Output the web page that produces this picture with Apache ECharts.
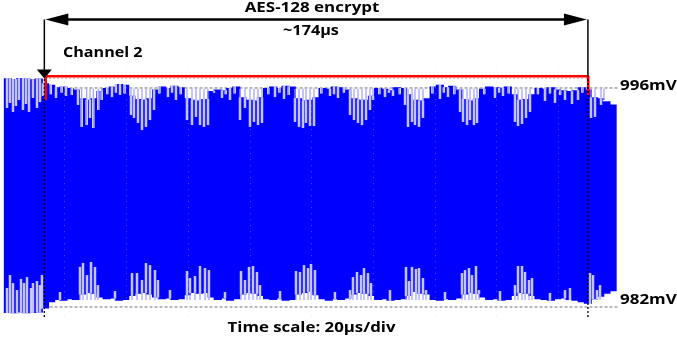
<!DOCTYPE html>
<html>
<head>
<meta charset="utf-8">
<script src="https://cdn.jsdelivr.net/npm/echarts@6/dist/echarts.min.js"></script>
<style>
  html, body { margin: 0; padding: 0; background: #fff; }
  #chart { width: 677px; height: 343px; }
</style>
</head>
<body>
<div id="chart"></div>
<script>
// scope capture, channel 2, 20 µs/div, values in µs / mV
const binStart = 0.6;
const binWidth = 2;

// solid part of the trace, one value per 2 µs bin
const topEdge = [
  996.62, 996.58, 996.64, 996.60, 996.55, 996.60,
  996.30, 996.20, 996.05, 996.10, 996.00, 995.90,
  995.35, 995.25, 995.35, 995.80, 996.00, 996.10,
  996.25, 996.20, 995.50, 995.30, 995.25, 995.35,
  995.90, 996.10, 996.00, 996.15, 996.05, 995.35,
  995.25, 995.20, 995.30, 995.80, 995.90, 995.85,
  996.00, 996.10, 995.40, 995.25, 995.20, 995.40,
  996.00, 996.10, 996.00, 996.15, 996.10, 995.35,
  995.20, 995.25, 995.40, 996.00, 995.95, 996.10,
  996.05, 995.90, 995.35, 995.25, 995.25, 995.50,
  996.00, 995.95, 995.85, 996.05, 996.00, 995.60,
  995.25, 995.20, 995.35, 996.10, 996.20, 996.05,
  996.15, 995.90, 995.30, 995.20, 995.35, 995.95,
  996.10, 996.05, 996.00, 996.10, 995.60, 995.25,
  995.30, 995.60, 996.00, 995.95, 996.05, 995.90,
  995.85, 995.80, 995.85, 996.05, 995.90, 995.40,
  995.35, 995.15, 994.95
];
const bottomEdge = [
  981.62, 981.60, 981.65, 981.60, 981.62, 981.65,
  981.90, 982.30, 982.45, 982.40, 982.50, 982.45,
  982.80, 982.90, 982.85, 982.60, 982.50, 982.55,
  982.40, 982.45, 982.70, 982.85, 982.90, 982.80,
  982.60, 982.50, 982.55, 982.45, 982.50, 982.75,
  982.90, 982.85, 982.90, 982.60, 982.45, 982.55,
  982.40, 982.50, 982.80, 982.90, 982.85, 982.70,
  982.50, 982.45, 982.55, 982.40, 982.45, 982.80,
  982.90, 982.95, 982.75, 982.50, 982.40, 982.50,
  982.45, 982.55, 982.80, 982.90, 982.85, 982.70,
  982.45, 982.50, 982.40, 982.45, 982.50, 982.70,
  982.95, 982.85, 982.80, 982.45, 982.40, 982.50,
  982.45, 982.55, 982.80, 982.90, 982.85, 982.60,
  982.45, 982.50, 982.40, 982.45, 982.70, 982.90,
  982.85, 982.70, 982.50, 982.45, 982.40, 982.50,
  982.55, 982.45, 982.40, 982.30, 982.20, 982.50,
  982.65, 982.85, 983.00
];

// low excursions from the top of the trace [µs, mV]
const topNotches = [
  [1.30, 994.72], [2.27, 995.04], [3.24, 994.47], [4.21, 994.85], [5.19, 995.23], [6.48, 994.59],
  [7.46, 994.98], [8.43, 994.47], [9.72, 995.36], [11.02, 994.72], [11.99, 995.10], [12.97, 995.49],
  [15.50, 995.60], [17.18, 995.36], [19.00, 995.70], [20.42, 995.49], [22.30, 995.55],
  [24.31, 994.91], [25.51, 993.51], [27.13, 993.63], [28.20, 994.08], [29.27, 993.44], [30.89, 994.59], [31.99, 995.23],
  [33.80, 995.60], [35.33, 995.42], [36.60, 995.70], [37.93, 995.55], [39.40, 995.65],
  [41.49, 994.27], [42.46, 994.08], [43.76, 993.76], [45.06, 993.31], [46.35, 993.51], [47.65, 993.95], [48.95, 994.59],
  [50.70, 995.65], [53.48, 995.42], [54.80, 995.70], [56.07, 995.23], [57.60, 995.60],
  [59.64, 993.95], [61.26, 993.63], [62.56, 994.15], [63.86, 993.63], [65.15, 993.51], [66.45, 993.63],
  [68.40, 995.70], [70.99, 995.36], [72.20, 995.60], [73.58, 995.23], [75.10, 995.65],
  [76.82, 993.95], [78.44, 994.72], [80.06, 993.51], [81.36, 993.83], [82.66, 993.63], [83.95, 993.76],
  [86.00, 995.60], [88.17, 995.42], [89.60, 995.70], [91.09, 995.30], [92.60, 995.55],
  [94.65, 993.83], [95.95, 993.51], [97.24, 993.44], [98.22, 993.76], [99.51, 993.57], [100.81, 993.57],
  [103.20, 995.65], [106.00, 995.49], [107.30, 995.60], [108.59, 995.36], [110.50, 995.70],
  [112.48, 994.27], [113.78, 993.95], [115.07, 993.76], [116.37, 993.63], [117.67, 993.95], [118.96, 994.59], [119.94, 995.23],
  [122.00, 995.60], [123.82, 995.42], [125.10, 995.70], [126.42, 995.49], [128.60, 995.60],
  [130.31, 994.91], [131.28, 993.51], [132.58, 993.83], [133.55, 993.63], [134.85, 993.51], [136.14, 994.08],
  [139.20, 995.65], [141.65, 995.30], [142.90, 995.70], [144.25, 995.42], [146.30, 995.60],
  [148.14, 994.47], [149.11, 993.83], [150.41, 993.63], [151.38, 993.95], [152.67, 993.63], [153.65, 993.76],
  [156.00, 995.60], [159.48, 995.36], [160.80, 995.70], [162.07, 995.49], [163.90, 995.65],
  [165.96, 993.83], [166.94, 993.57], [168.23, 993.70], [169.53, 994.08], [170.83, 994.47],
  [173.40, 995.60], [175.69, 995.17], [177.30, 995.65], [178.93, 995.04], [180.60, 995.55],
  [182.17, 995.23], [184.44, 994.98], [186.39, 995.23], [187.80, 995.70],
  [190.60, 994.08], [191.90, 994.15], [193.84, 994.91], [194.81, 995.23]
];

// high excursions from the bottom of the trace [µs, mV]
const bottomSpikes = [
  [1.30, 983.21], [2.27, 984.04], [3.24, 983.53], [4.54, 983.08], [5.83, 983.79], [6.81, 983.53],
  [7.78, 983.91], [9.08, 983.21], [9.72, 983.53], [11.02, 983.66], [11.99, 983.40], [12.64, 984.04],
  [18.48, 982.96],
  [24.96, 984.56], [25.93, 984.81], [27.23, 984.04], [28.53, 984.87], [29.82, 984.56], [30.79, 983.40],
  [36.30, 983.02],
  [41.82, 984.17], [43.44, 984.17], [45.06, 983.72], [46.35, 984.81], [47.65, 984.68], [49.27, 984.36], [50.24, 983.72],
  [54.13, 983.08],
  [59.64, 984.30], [60.62, 983.85], [62.24, 983.98], [63.86, 984.62], [65.48, 984.49], [66.77, 984.36],
  [71.96, 982.96],
  [77.15, 984.30], [78.44, 983.72], [79.74, 984.56], [81.04, 984.62], [82.33, 984.24], [83.31, 983.40],
  [89.79, 983.02],
  [94.98, 984.30], [96.27, 984.24], [97.57, 984.68], [98.87, 984.49], [99.84, 984.75], [101.13, 984.36],
  [107.60, 982.96],
  [112.48, 983.08], [113.45, 983.91], [114.75, 984.24], [116.05, 984.04], [117.02, 984.49], [118.31, 984.17], [119.29, 983.53],
  [125.44, 983.08],
  [130.63, 984.56], [131.60, 983.66], [132.58, 984.56], [133.87, 984.43], [134.85, 984.49], [136.14, 983.85], [137.12, 983.08],
  [143.27, 982.96],
  [148.78, 984.17], [149.76, 984.36], [151.05, 984.49], [152.03, 984.04], [153.32, 984.62], [154.29, 983.08],
  [161.10, 983.02],
  [165.96, 983.40], [166.94, 984.62], [168.23, 984.62], [169.21, 984.24], [170.50, 983.72], [171.48, 983.85],
  [177.30, 982.90],
  [182.17, 983.08], [183.79, 983.21],
  [190.28, 984.17], [191.25, 984.04], [192.54, 983.08], [193.52, 983.40]
];
// level the fast excursions reach back to
const topReach = 995.95;
const bottomReach = 982.45;

// channel 1 trigger window
const triggerTrace = [[13.84, 995.23], [13.84, 996.75], [189.70, 996.75], [189.70, 995.55]];
const triggerRipple = [[13.84, 996.62], [189.70, 996.62]];

// cursors and reference levels
const markerTimes = [13.4, 189.6];
const refLevels = [996, 982];
const refLabels = ['996mV', '982mV'];
const spanLabel = '~174µs';
const titleLabel = 'AES-128 encrypt';
const channelLabel = 'Channel 2';
const scaleLabel = 'Time scale: 20µs/div';

const BLUE = '#0000ff';
const LIGHT = '#9b9bff';
const FONT = '"Open Sans", "Liberation Sans", sans-serif';

const chart = echarts.init(document.getElementById('chart'), null, { renderer: 'canvas' });

const binOf = (t) =>
  Math.min(topEdge.length - 1, Math.max(0, Math.floor((t - binStart) / binWidth)));

// [t, tip, solid edge, where the thin trace line starts]
const excursion = (params, api) => {
  const t = api.value(0);
  const tip = api.coord([t, api.value(1)]);
  const edge = api.coord([t, api.value(2)]);
  const from = api.coord([t, api.value(3)]);
  const gap = { y: Math.min(edge[1], tip[1]), h: Math.abs(tip[1] - edge[1]) };
  const line = { y: Math.min(from[1], tip[1]), h: Math.abs(tip[1] - from[1]) };
  return {
    type: 'group',
    children: [
      { type: 'rect', shape: { x: tip[0] - 1.2, y: gap.y, width: 2.4, height: gap.h }, style: { fill: '#fff' } },
      { type: 'rect', shape: { x: tip[0] - 0.6, y: line.y, width: 1.2, height: line.h }, style: { fill: LIGHT } },
    ],
  };
};

chart.setOption({
  animation: false,
  grid: { left: 3, width: 617, top: 69.2, height: 250.3 },
  xAxis: {
    type: 'value',
    min: 0,
    max: 200,
    interval: 20,
    z: 5,
    axisLine: { show: false },
    axisTick: { show: false },
    axisLabel: { show: false },
    splitLine: {
      show: true,
      showMinLine: false,
      showMaxLine: false,
      lineStyle: { color: 'rgba(190,190,255,0.4)', width: 1, type: [1, 5] },
    },
  },
  yAxis: {
    type: 'value',
    min: 981.2,
    max: 997.2,
    axisLine: { show: false },
    axisTick: { show: false },
    axisLabel: { show: false },
    splitLine: { show: false },
  },
  series: [
    ...refLevels.map((lvl) => ({
      type: 'line',
      z: 1,
      symbol: 'none',
      silent: true,
      data: [[0.5, lvl], [199.4, lvl]],
      lineStyle: { color: '#707070', width: 1, type: [3, 2] },
    })),
    {
      type: 'custom',
      z: 2,
      silent: true,
      data: topEdge.map((v, i) => [binStart + i * binWidth, bottomEdge[i], v]),
      renderItem: (params, api) => {
        const t0 = api.value(0);
        const a = api.coord([t0, api.value(2)]);
        const b = api.coord([t0 + binWidth, api.value(1)]);
        return {
          type: 'rect',
          shape: { x: a[0] - 1, y: a[1], width: b[0] - a[0] + 2, height: b[1] - a[1] },
          style: { fill: BLUE },
        };
      },
    },
    {
      type: 'custom',
      z: 3,
      silent: true,
      data: topNotches.map(([t, v]) => {
        const edge = topEdge[binOf(t)];
        return [t, v, edge, Math.max(edge, topReach)];
      }),
      renderItem: excursion,
    },
    {
      type: 'custom',
      z: 3,
      silent: true,
      data: bottomSpikes.map(([t, v]) => {
        const edge = bottomEdge[binOf(t)];
        return [t, v, edge, Math.min(edge, bottomReach)];
      }),
      renderItem: excursion,
    },
    {
      type: 'line',
      z: 6,
      symbol: 'none',
      silent: true,
      data: triggerRipple,
      lineStyle: { color: '#ff0000', width: 1.2, type: [1, 3], opacity: 0.8 },
    },
    {
      type: 'line',
      z: 6,
      symbol: 'none',
      silent: true,
      data: triggerTrace,
      lineStyle: { color: '#ff0000', width: 2.6 },
    },
  ],
});

// cursors, span arrow and captions
const xs = markerTimes.map((t) => chart.convertToPixel({ xAxisIndex: 0 }, t));
const refY = refLevels.map((v) => chart.convertToPixel({ yAxisIndex: 0 }, v));
const arrowY = 19.5;
const caption = (text, x, y, size, align, sx) => ({
  type: 'text',
  z: 10,
  x: x,
  y: y,
  scaleX: sx,
  style: { text: text, fill: '#000', fontFamily: FONT, fontWeight: 'bold', fontSize: size, align: align, verticalAlign: 'middle' },
});

const graphics = [];
xs.forEach((x) => {
  graphics.push(
    { type: 'line', z: 10, shape: { x1: x, y1: arrowY, x2: x, y2: 75 }, style: { stroke: '#000', lineWidth: 1.5 } },
    { type: 'line', z: 10, shape: { x1: x, y1: 75, x2: x, y2: 318 }, style: { stroke: '#000', lineWidth: 1.3, lineDash: [2, 2] } }
  );
});
graphics.push(
  { type: 'line', z: 10, shape: { x1: xs[0] + 10, y1: arrowY, x2: xs[1] - 10, y2: arrowY }, style: { stroke: '#000', lineWidth: 2.5 } },
  { type: 'polygon', z: 10, shape: { points: [[xs[0] + 1, arrowY], [xs[0] + 24, arrowY - 6], [xs[0] + 24, arrowY + 6]] }, style: { fill: '#000' } },
  { type: 'polygon', z: 10, shape: { points: [[xs[1] - 1, arrowY], [xs[1] - 24, arrowY - 6], [xs[1] - 24, arrowY + 6]] }, style: { fill: '#000' } },
  { type: 'polygon', z: 10, shape: { points: [[xs[0] - 7.5, 69.5], [xs[0] + 7.5, 69.5], [xs[0], 78.5]] }, style: { fill: '#000' } },
  caption(titleLabel, 312, 7.5, 15, 'center', 1.13),
  caption(spanLabel, 311, 30.5, 15, 'center', 1.08),
  caption(channelLabel, 63, 53.5, 14, 'left', 1.15),
  caption(scaleLabel, 311.5, 328.5, 14, 'center', 1.2),
  caption(refLabels[0], 620, refY[0] - 2, 15, 'left', 1.13),
  caption(refLabels[1], 620, refY[1] - 7, 15, 'left', 1.13)
);

chart.setOption({ graphic: graphics });
</script>
</body>
</html>
